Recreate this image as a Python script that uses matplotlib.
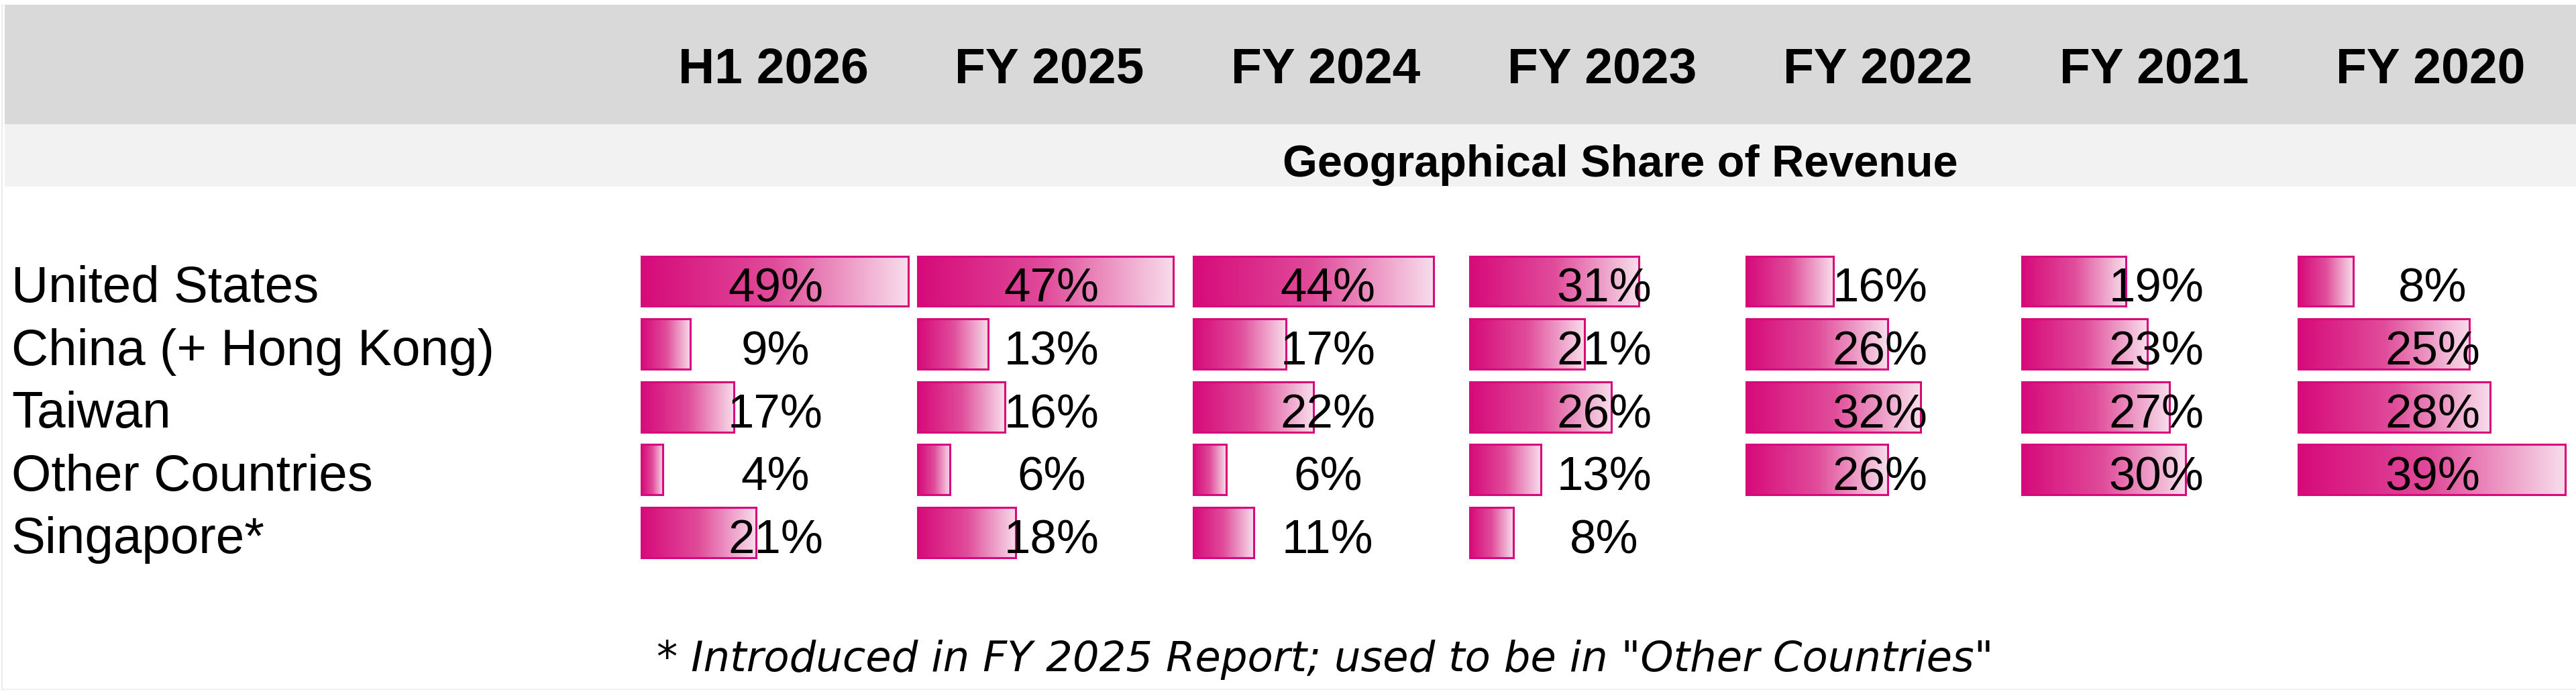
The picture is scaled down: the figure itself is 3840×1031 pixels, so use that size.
import numpy as np
import matplotlib
matplotlib.use("Agg")
import matplotlib.pyplot as plt
from matplotlib.colors import LinearSegmentedColormap
from matplotlib.patches import Rectangle

# ---------------- data ----------------
periods = ["H1 2026", "FY 2025", "FY 2024", "FY 2023", "FY 2022", "FY 2021", "FY 2020"]
regions = ["United States", "China (+ Hong Kong)", "Taiwan", "Other Countries", "Singapore*"]
h1_2026 = [49, 9, 17, 4, 21]
fy_2025 = [47, 13, 16, 6, 18]
fy_2024 = [44, 17, 22, 6, 11]
fy_2023 = [31, 21, 26, 13, 8]
fy_2022 = [16, 26, 32, 26, None]
fy_2021 = [19, 23, 27, 30, None]
fy_2020 = [8, 25, 28, 39, None]
columns = [h1_2026, fy_2025, fy_2024, fy_2023, fy_2022, fy_2021, fy_2020]
# data-bar rule ranges (columns sharing one conditional-format scale)
bar_groups = [0, 0, 0, 0, 0, 0, 1]
title = "Geographical Share of Revenue"
footnote = '* Introduced in FY 2025 Report; used to be in "Other Countries"'

# ---------------- layout ----------------
W, H = 3840, 1031
FONT = "Liberation Sans"
MAG = "#D60A7A"
cmap = LinearSegmentedColormap.from_list("bar", [MAG, "#E04C9A", "#F8DDEB"])

fig = plt.figure(figsize=(W / 100, H / 100), dpi=100)
bg = fig.add_axes([0, 0, 1, 1])
bg.set_xlim(0, W)
bg.set_ylim(H, 0)
bg.axis("off")
bg.add_patch(Rectangle((7, 7), W - 7, 178, fc="#D9D9D9", ec="none"))
bg.add_patch(Rectangle((7, 185), W - 7, 93, fc="#F2F2F2", ec="none"))
bg.plot([3, 3], [7, 1027], color="#E8E8E8", lw=1.2)
bg.plot([3, W], [1027, 1027], color="#EEEEEE", lw=1.2)

bar_x0 = 956
pitch = 411.67
bar_full = 398
row0 = 419
row_pitch = 93.6
y_top = row0 - row_pitch / 2
y_bot = row0 + row_pitch * (len(regions) - 0.5)

# group maxima
group_max = {}
for g, col in zip(bar_groups, columns):
    m = max(v for v in col if v is not None)
    group_max[g] = max(group_max.get(g, 0), m)

grad = np.linspace(0, 1, 256).reshape(1, -1)
for k, col in enumerate(columns):
    x0 = bar_x0 + k * pitch
    ax = fig.add_axes([x0 / W, 1 - y_bot / H, bar_full / W, (y_bot - y_top) / H])
    ax.axis("off")
    idx = [i for i, v in enumerate(col) if v is not None]
    vals = [col[i] for i in idx]
    bars = ax.barh(idx, vals, height=0.8, color="none", edgecolor=MAG,
                   linewidth=2.2, zorder=3)
    for b in bars:
        bx, by, bw, bh = b.get_x(), b.get_y(), b.get_width(), b.get_height()
        ax.imshow(grad, cmap=cmap, extent=(bx, bx + bw, by + bh, by),
                  aspect="auto", interpolation="bilinear", zorder=2)
        b.set_clip_on(False)
    ax.set_xlim(0, group_max[bar_groups[k]])
    ax.set_ylim(len(regions) - 0.5, -0.5)

# overlay for text
fg = fig.add_axes([0, 0, 1, 1])
fg.set_xlim(0, W)
fg.set_ylim(H, 0)
fg.axis("off")
fg.patch.set_alpha(0)

for k, p in enumerate(periods):
    fg.text(1153 + k * pitch, 124, p, ha="center", va="baseline",
            fontsize=54, fontweight="bold", family=FONT)
fg.text(2415, 263, title, ha="center", va="baseline", fontsize=48,
        fontweight="bold", family=FONT)

for i, r in enumerate(regions):
    fg.text(17, row0 + i * row_pitch + 31, r, ha="left", va="baseline",
            fontsize=55, family=FONT)

for k, col in enumerate(columns):
    for i, v in enumerate(col):
        if v is None:
            continue
        fg.text(1156 + k * pitch, row0 + i * row_pitch + 31, f"{v}%",
                ha="center", va="baseline", fontsize=51, family=FONT)

fg.text(1975, 1000, footnote, ha="center", va="baseline", fontsize=45,
        style="italic", family="DejaVu Sans")

fig.savefig("out.png", dpi=100, facecolor="white")
